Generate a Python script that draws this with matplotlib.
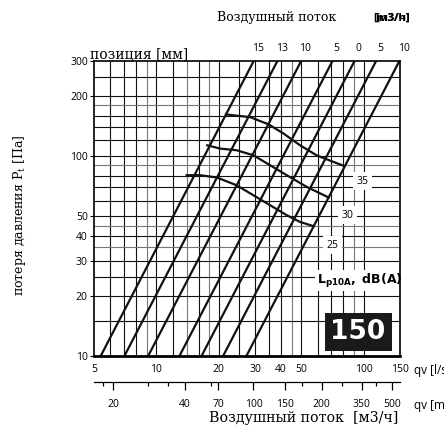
import matplotlib.pyplot as plt
import numpy as np

# damper positions (labels on top) and flow at 300 Pa for each straight line
positions = ['15', '13', '10', '5', '0', '5', '10']
q_at_300 = [29.5, 38.4, 50, 70.8, 90.5, 115, 149]

# sound level curves Lp10A: flow [l/s] and pressure [Pa]
q_35 = [21.7, 28.4, 34.8, 41.1, 49.4, 59.5, 71.6, 80.7]
p_35 = [162, 157, 144.5, 130, 113.5, 101, 93.7, 89.4]
q_30 = [17.6, 20.3, 24.4, 29.4, 35.4, 42.6, 53.3, 67.8]
p_30 = [113.5, 109.3, 107.2, 101.2, 90.2, 80.4, 70.2, 62.2]
q_25 = [14.0, 16.3, 19.6, 24.4, 29.4, 35.4, 42.6, 49.4, 57.3]
p_25 = [80.4, 80.4, 78.3, 71.6, 63.8, 56.9, 50.7, 46.9, 44.7]

db_labels = ['35', '30', '25']
db_label_q = [98.6, 83.4, 70.6]
db_label_p = [75, 50.7, 35.9]

# axes ticks
x_ticks = [5, 10, 20, 30, 40, 50, 100, 150]
y_ticks = [10, 20, 30, 40, 50, 100, 200, 300]

# grid lines
vgrid_dark = [6, 7, 8, 10, 12, 16, 20, 25, 30, 35, 40, 50, 60, 70, 80, 100]
vgrid_gray = [9, 14, 18, 45, 90]
hgrid_dark = [15, 20, 25, 30, 40, 50, 60, 70, 80, 100, 120, 140, 160, 200, 250]
hgrid_gray = [35, 45, 90, 180]

# lower m3/h scale as printed in the catalogue (position in l/s)
m3h_labels = ['20', '40', '70', '100', '150', '200', '350', '500']
m3h_at_ls = [6.2, 13.76, 19.93, 29.43, 41.85, 62.9, 98.2, 137.1]
m3h_minor_at_ls = [5.55, 9.14, 11.4, 18.4, 50.7, 78.6, 115]

serif = 'DejaVu Serif'
sans = 'Open Sans'

fig = plt.figure(figsize=(4.44, 4.25), dpi=100)
ax = fig.add_axes([94 / 444, 69 / 425, 306 / 444, 295 / 425])
ax.set_xscale('log')
ax.set_yscale('log')
ax.set_xlim(5, 150)
ax.set_ylim(10, 300)

for v in vgrid_dark:
    ax.axvline(v, color='#111111', lw=0.8, zorder=1)
for v in vgrid_gray:
    ax.axvline(v, color='#777777', lw=0.8, zorder=1)
for h in hgrid_dark:
    ax.axhline(h, color='#111111', lw=0.8, zorder=1)
for h in hgrid_gray:
    ax.axhline(h, color='#777777', lw=0.8, zorder=1)

# damper lines p ~ q^2
p_line = np.array([10, 300])
for lab, q3 in zip(positions, q_at_300):
    q_line = q3 * np.sqrt(p_line / 300)
    ax.plot(q_line, p_line, color='#111111', lw=1.6, zorder=3)
    ax.annotate(lab, (q3, 300), xytext=(3, 5), textcoords='offset points',
                ha='center', va='bottom', fontsize=7.5, family=sans, annotation_clip=False)

for q, p in [(q_35, p_35), (q_30, p_30), (q_25, p_25)]:
    ax.plot(q, p, color='#111111', lw=1.6, zorder=3)

for lab, q, p in zip(db_labels, db_label_q, db_label_p):
    ax.text(q, p, lab, ha='center', va='center', fontsize=7.5, family=sans, zorder=4,
            bbox=dict(facecolor='white', edgecolor='none', pad=2.5))

ax.text(0.868, 0.255, r'$\mathbf{L_{p10A},\ dB(A)}$', transform=ax.transAxes,
        ha='center', va='center', fontsize=9, zorder=4,
        bbox=dict(facecolor='white', edgecolor='none', pad=1))
ax.text(0.863, 0.081, '150', transform=ax.transAxes, ha='center', va='center',
        fontsize=19, fontweight='bold', color='white', family='DejaVu Sans', zorder=5,
        bbox=dict(facecolor='#1a1a1a', edgecolor='none', boxstyle='square,pad=0.22'))

for s in ax.spines.values():
    s.set_linewidth(1.2)
    s.set_zorder(6)
ax.spines['bottom'].set_linewidth(2)

ax.set_xticks(x_ticks, [str(t) for t in x_ticks])
ax.set_yticks(y_ticks, [str(t) for t in y_ticks])
ax.minorticks_off()
ax.tick_params(axis='x', length=0, pad=6, labelsize=7.5)
ax.tick_params(axis='y', length=3, width=0.8, pad=1.5, labelsize=7.5)
for t in ax.get_xticklabels() + ax.get_yticklabels():
    t.set_family(sans)

# lower m3/h axis
sec = ax.secondary_xaxis(-0.088, functions=(lambda x: x, lambda x: x))
sec.set_xticks(m3h_at_ls, m3h_labels)
sec.set_xticks(m3h_minor_at_ls, [''] * len(m3h_minor_at_ls), minor=True)
sec.tick_params(axis='x', which='major', length=6, width=0.9, pad=6, labelsize=7.5)
sec.tick_params(axis='x', which='minor', length=3, width=0.9)
sec.spines['bottom'].set_linewidth(0.9)
for t in sec.get_xticklabels():
    t.set_family(sans)

ax.text(1.045, -0.05, 'qv [l/s]', transform=ax.transAxes, ha='left', va='center',
        fontsize=8.5, family=sans)
ax.text(1.045, -0.167, 'qv [m3/h]', transform=ax.transAxes, ha='left', va='center',
        fontsize=8.5, family=sans)

# axis titles
ax.text(-0.012, 0.997, 'позиция [мм]', transform=ax.transAxes, ha='left', va='bottom',
        fontsize=10, family=serif)
fig.text(304 / 444, 1 - 418 / 425, 'Воздушный поток  [м3/ч]', ha='center', va='center',
         fontsize=10.3, family=serif)
fig.text(217 / 444, 1 - 18 / 425, 'Воздушный поток', ha='left', va='center',
         fontsize=9, family=serif)
fig.text(410 / 444, 1 - 18 / 425, '[m3/h]', ha='right', va='center',
         fontsize=8, fontweight='bold', family=sans)
fig.text(410 / 444, 1 - 18 / 425, '[м3/ч]', ha='right', va='center',
         fontsize=8, fontweight='bold', family=sans)
fig.text(20 / 444, 1 - 215 / 425, 'потеря давления P$_\\mathregular{t}$ [Па]', rotation=90,
         ha='center', va='center', fontsize=9, family=serif)

fig.savefig('out.png', dpi=100, facecolor='white')
